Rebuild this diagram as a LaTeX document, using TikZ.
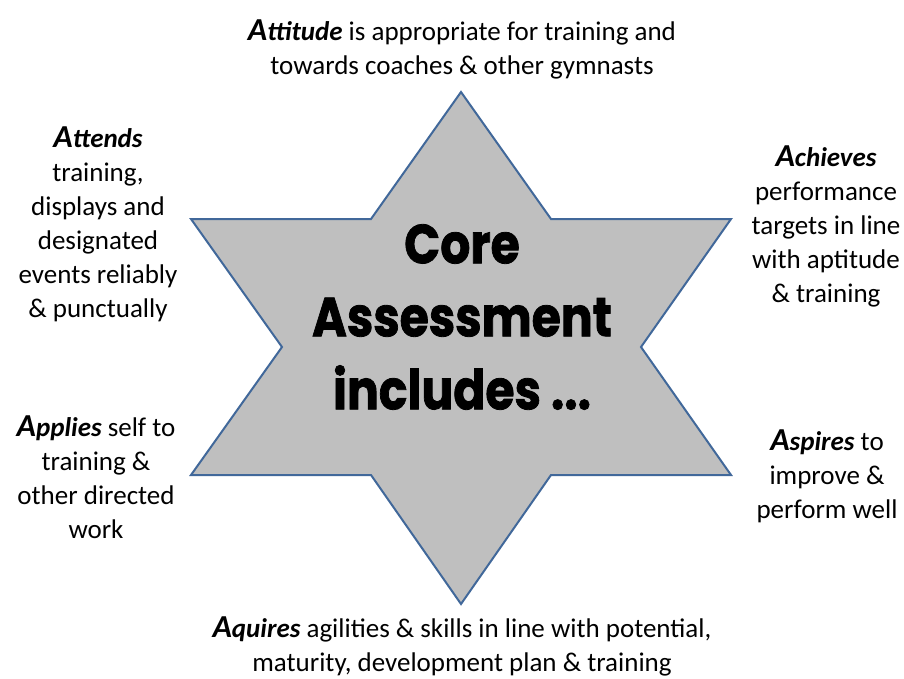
\documentclass[tikz,border=0pt]{standalone}
\usepackage{fontspec}
\setmainfont{Carlito}
\newfontfamily\corefont[BoldFeatures={FakeBold=1.5}]{Poppins}
\usepackage{tikz}
\usepackage{xcolor}
\definecolor{starfill}{HTML}{BFBFBF}
\definecolor{starline}{HTML}{41689A}
% bold italic key word with a larger first letter
\newcommand{\keyword}[1]{{\bfseries\itshape{\fontsize{32}{34}\selectfont A}#1}}

\begin{document}
\begin{tikzpicture}[x=1pt,y=-1pt,
  txt/.style={align=center,inner sep=0pt,font=\fontsize{27}{34}\selectfont},
  core/.style={align=center,inner sep=0pt,xscale=0.86,transform shape,
    font=\corefont\bfseries\fontsize{55}{73}\selectfont}]
\useasboundingbox (0,0) rectangle (904,679);
% the star
\filldraw[fill=starfill,draw=starline,line width=2pt]
  (461,92) -- (551,219) -- (731,219) -- (641,347) -- (731,475) -- (551,475)
  -- (461,604) -- (371,475) -- (191,475) -- (282,347) -- (191,219) -- (371,219) -- cycle;
\node[core] (core) at (462,317) {Core\\Assessment\\includes ...};
% the six A's
\node[txt] (attitude) at (462,49) {\keyword{ttitude} is appropriate for training and\\towards coaches \& other gymnasts};
\node[txt] (attends) at (98,224) {\keyword{ttends}\\training,\\displays and\\designated\\events reliably\\\& punctually};
\node[txt] (achieves) at (826,226) {\keyword{chieves}\\performance\\targets in line\\with aptitude\\\& training};
\node[txt] (applies) at (96,477) {\keyword{pplies} self to\\training \&\\other directed\\work};
\node[txt] (aspires) at (827,476.5) {\keyword{spires} to\\improve \&\\perform well};
\node[txt] (aquires) at (462,646) {\keyword{quires} agilities \& skills in line with potential,\\maturity, development plan \& training};
\end{tikzpicture}
\end{document}
